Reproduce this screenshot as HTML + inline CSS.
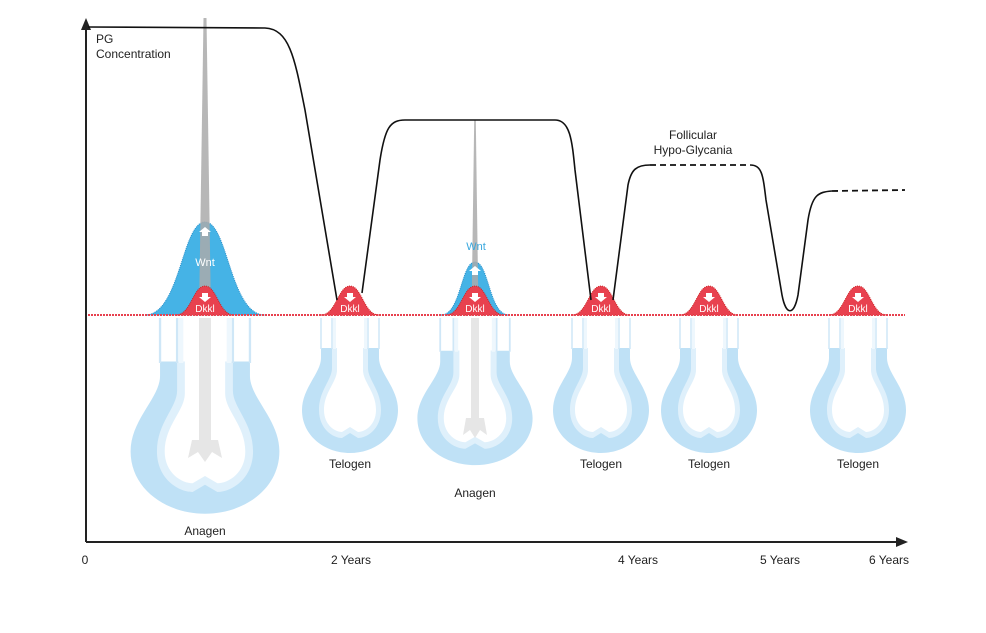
<!DOCTYPE html>
<html><head><meta charset="utf-8"><style>
html,body{margin:0;padding:0;background:#fff;}
svg{display:block;font-family:"Liberation Sans",sans-serif;}
</style></head><body>
<svg width="986" height="633" viewBox="0 0 986 633" xmlns="http://www.w3.org/2000/svg">
<defs>
<g id="fol">
  <path d="M-29,30 L-29,40 C-29,55 -48,70 -48,92 C-48,118 -25,135 0,135 C25,135 48,118 48,92 C48,70 29,55 29,40 L29,30 Z" fill="#bfe1f6"/>
  <path d="M-18,30 L-18,50 C-18,62 -31,72 -31,92 C-31,111 -17,120 -8,120 L0,115 L8,120 C17,120 31,111 31,92 C31,72 18,62 18,50 L18,30 Z" fill="#dff0fb"/>
  <path d="M-13,0 L-13,52 C-13,64 -26,74 -26,92 C-26,107 -15,114 -8,114 L0,109 L8,114 C15,114 26,107 26,92 C26,74 13,64 13,52 L13,0 Z" fill="#fff"/>
  <path d="M-29,0 L-29,31 M29,0 L29,31 M-18,0 L-18,31 M18,0 L18,31" stroke="#cfe7f7" stroke-width="1.5"/>
  <path d="M-15.5,0 L-15.5,31 M15.5,0 L15.5,31" stroke="#eef7fd" stroke-width="3"/>
</g>
</defs>

<!-- axes -->
<line x1="86" y1="542" x2="86" y2="28" stroke="#222" stroke-width="2"/>
<polygon points="86,18 81,30 91,30" fill="#222"/>
<line x1="86" y1="542" x2="898" y2="542" stroke="#222" stroke-width="2"/>
<polygon points="908,542 896,537 896,547" fill="#222"/>

<!-- follicles -->
<use href="#fol" transform="translate(205,318) scale(1.55,1.45)"/>
<rect x="199" y="318" width="12" height="128" fill="#e6e6e6"/>
<path d="M192,440 L218,440 L222,458 L212,452 L205,462 L198,452 L188,458 Z" fill="#e6e6e6"/>
<use href="#fol" transform="translate(475,318) scale(1.2,1.09)"/>
<rect x="471" y="318" width="8" height="105" fill="#e6e6e6"/>
<path d="M466,418 L484,418 L487,435 L480,430 L475,438 L470,430 L463,435 Z" fill="#e6e6e6"/>
<use href="#fol" transform="translate(350,318)"/>
<use href="#fol" transform="translate(601,318)"/>
<use href="#fol" transform="translate(709,318)"/>
<use href="#fol" transform="translate(858,318)"/>

<!-- Wnt bells -->
<path d="M145,315 C180,315 182,222 205,222 C228,222 230,315 265,315 Z" fill="#45b3e6" stroke="#2a8fc9" stroke-dasharray="1,1"/>
<path d="M441,315 C461,315 461,262 475,262 C489,262 489,315 509,315 Z" fill="#45b3e6" stroke="#2a8fc9" stroke-dasharray="1,1"/>
<!-- hair spikes -->
<polygon points="203.5,18 206.5,18 211,315 199,315" fill="#aaa" opacity="0.85"/>
<polygon points="474.2,120 475.8,120 478.5,315 471.5,315" fill="#aaa" opacity="0.85"/>
<g fill="#e8414f" stroke="#c22" stroke-dasharray="1,1" stroke-width="1">
<path d="M176,315 C191,315 193,286 205,286 C217,286 219,315 234,315 Z"/>
<path d="M321,315 C336,315 338,286 350,286 C362,286 364,315 379,315 Z"/>
<path d="M446,315 C461,315 463,286 475,286 C487,286 489,315 504,315 Z"/>
<path d="M572,315 C587,315 589,286 601,286 C613,286 615,315 630,315 Z"/>
<path d="M680,315 C695,315 697,286 709,286 C721,286 723,315 738,315 Z"/>
<path d="M829,315 C844,315 846,286 858,286 C870,286 872,315 887,315 Z"/>
</g>
<line x1="88" y1="315" x2="905" y2="315" stroke="#e8414f" stroke-width="2" stroke-dasharray="2,1"/>
<g fill="#fff" font-size="10" text-anchor="middle">
<text x="205" y="312">Dkkl</text><text x="350" y="312">Dkkl</text><text x="475" y="312">Dkkl</text>
<text x="601" y="312">Dkkl</text><text x="709" y="312">Dkkl</text><text x="858" y="312">Dkkl</text>
<text x="205" y="266" font-size="11">Wnt</text>
</g>
<g fill="#fff">
<path d="M202,293 h6 v4 h3 l-6,5 l-6,-5 h3z"/><path d="M347,293 h6 v4 h3 l-6,5 l-6,-5 h3z"/>
<path d="M472,293 h6 v4 h3 l-6,5 l-6,-5 h3z"/><path d="M598,293 h6 v4 h3 l-6,5 l-6,-5 h3z"/>
<path d="M706,293 h6 v4 h3 l-6,5 l-6,-5 h3z"/><path d="M855,293 h6 v4 h3 l-6,5 l-6,-5 h3z"/>
<path d="M202,236 h6 v-4 h3 l-6,-5 l-6,5 h3z"/><path d="M472,275 h6 v-4 h3 l-6,-5 l-6,5 h3z"/>
</g>
<text x="476" y="250" font-size="11" fill="#3aa8de" text-anchor="middle">Wnt</text>

<!-- PG curve -->
<path d="M88,27 L265,28 C290,29 295,60 305,110 L337,300 M362,293 L380,160 C385,128 390,120 405,120 L555,120 C570,120 572,140 575,170 L591,300 M613,300 L628,185 C631,170 636,165 650,165" fill="none" stroke="#111" stroke-width="1.6"/>
<path d="M650,165 L750,165" stroke="#111" stroke-width="1.8" stroke-dasharray="6,4"/>
<path d="M750,165 C762,165 763,175 766,200 L782,295 C786,316 794,316 798,295 L808,220 C812,195 818,192 832,191" fill="none" stroke="#111" stroke-width="1.6"/>
<path d="M832,191 L905,190" stroke="#111" stroke-width="1.8" stroke-dasharray="6,4"/>

<!-- labels -->
<g fill="#222" font-size="12">
<text x="96" y="43">PG</text>
<text x="96" y="58">Concentration</text>
<text x="693" y="139" text-anchor="middle">Follicular</text>
<text x="693" y="154" text-anchor="middle">Hypo-Glycania</text>
<text x="205" y="535" text-anchor="middle">Anagen</text>
<text x="350" y="468" text-anchor="middle">Telogen</text>
<text x="475" y="497" text-anchor="middle">Anagen</text>
<text x="601" y="468" text-anchor="middle">Telogen</text>
<text x="709" y="468" text-anchor="middle">Telogen</text>
<text x="858" y="468" text-anchor="middle">Telogen</text>
<text x="85" y="564" text-anchor="middle">0</text>
<text x="351" y="564" text-anchor="middle">2 Years</text>
<text x="638" y="564" text-anchor="middle">4 Years</text>
<text x="780" y="564" text-anchor="middle">5 Years</text>
<text x="889" y="564" text-anchor="middle">6 Years</text>
</g>
</svg>
</body></html>
